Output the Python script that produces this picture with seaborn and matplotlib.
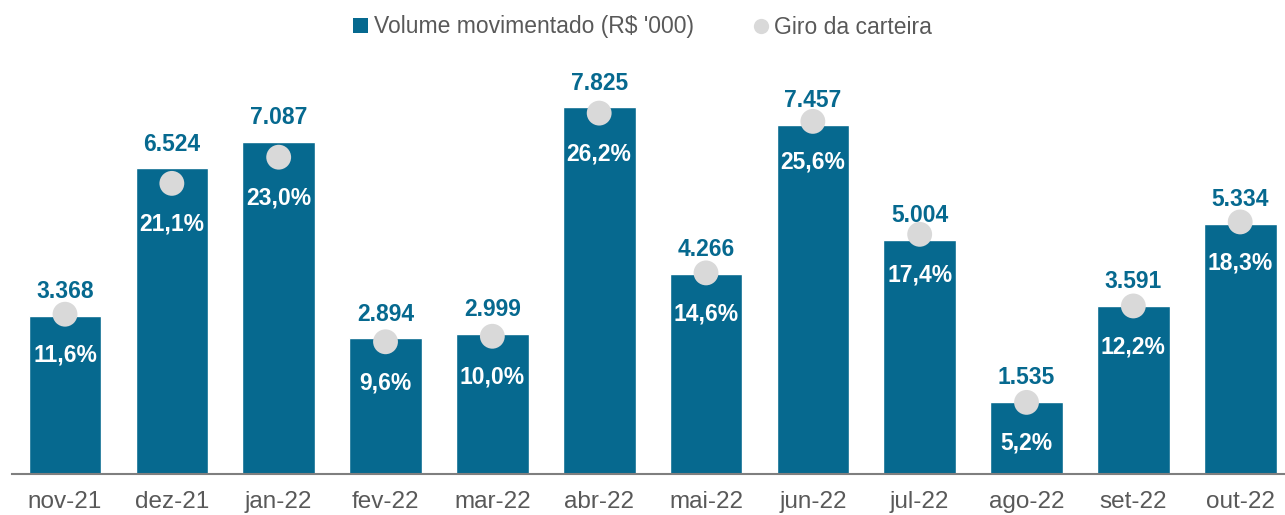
import numpy as np
import matplotlib
matplotlib.use("Agg")
import matplotlib.pyplot as plt
from matplotlib.patches import Patch
from matplotlib.lines import Line2D
import seaborn as sns

# dados
meses = ['nov-21', 'dez-21', 'jan-22', 'fev-22', 'mar-22', 'abr-22',
         'mai-22', 'jun-22', 'jul-22', 'ago-22', 'set-22', 'out-22']
volume = [3368, 6524, 7087, 2894, 2999, 7825, 4266, 7457, 5004, 1535, 3591, 5334]
giro = [11.6, 21.1, 23.0, 9.6, 10.0, 26.2, 14.6, 25.6, 17.4, 5.2, 12.2, 18.3]

azul = '#06698f'
cinza_ponto = '#d9d9d9'
cinza_txt = '#595959'

sns.set_style('white')
plt.rcParams['font.family'] = ['Liberation Sans', 'DejaVu Sans']

fig = plt.figure(figsize=(12.85, 5.15), dpi=100)
W, H = 1285, 515
left_px, base_px, top_px = 11.6, 474, 50
ax = fig.add_axes([left_px / W, (H - base_px) / H, 1282 / W, (base_px - top_px) / H])

sns.barplot(x=meses, y=volume, color=azul, width=0.68, saturation=1, ax=ax)
ax.set_xlim(-0.5, 11.5)
ax.set_ylim(0, (base_px - top_px) * 21.35)

ax2 = ax.twinx()
x_pos = np.arange(len(meses))
sns.scatterplot(x=x_pos, y=giro, color=cinza_ponto, s=320, edgecolor='none', ax=ax2, zorder=5)
ax2.set_ylim(0, (base_px - top_px) * 0.0726)
ax2.set_xlim(-0.5, 11.5)

for xi, v, g in zip(x_pos, volume, giro):
    ax.annotate(f'{v:,}'.replace(',', '.'), (xi, v), xytext=(0, 17.5), textcoords='offset points',
                ha='center', va='center', color=azul, fontsize=16.5, fontweight='bold')
    ax2.annotate(f'{g:.1f}%'.replace('.', ','), (xi, g), xytext=(0, -29.5), textcoords='offset points',
                 ha='center', va='center', color='white', fontsize=16.5, fontweight='bold')

for a in (ax, ax2):
    for s in ['top', 'left', 'right']:
        a.spines[s].set_visible(False)
    a.set_yticks([])
    a.set_ylabel('')
ax2.spines['bottom'].set_visible(False)
ax.spines['bottom'].set_color('#7f7f7f')
ax.spines['bottom'].set_linewidth(1.5)
ax.tick_params(axis='x', length=0, pad=12, labelsize=17.5, labelcolor=cinza_txt)
ax2.tick_params(axis='x', length=0, labelbottom=False)
ax.set_xlabel('')

handles = [Patch(facecolor=azul, edgecolor='none'),
           Line2D([], [], marker='o', linestyle='none', markersize=11,
                  markerfacecolor=cinza_ponto, markeredgecolor='none')]
fig.legend(handles, ["Volume movimentado (R$ '000)", 'Giro da carteira'],
           loc='center', bbox_to_anchor=(0.5, 1 - 27 / H), ncol=2, frameon=False,
           fontsize=16.5, labelcolor=cinza_txt, handlelength=0.65, handleheight=0.65,
           handletextpad=0.25, columnspacing=2.6)

fig.savefig('out.png', dpi=100)
